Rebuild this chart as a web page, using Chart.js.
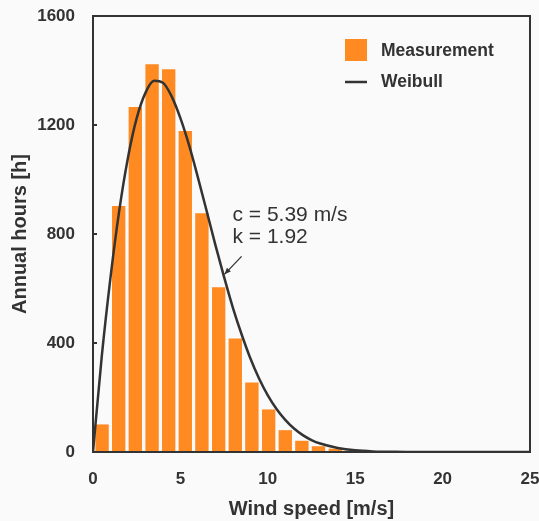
<!DOCTYPE html>
<html>
<head>
<meta charset="utf-8">
<script src="https://cdn.jsdelivr.net/npm/chart.js@4"></script>
<style>
  html, body { margin: 0; padding: 0; background: #fafafa; }
</style>
</head>
<body>
<canvas id="chart" width="539" height="521"></canvas>
<script>
// measured histogram (bin centres as drawn, hours per year)
const binCenters = [0.52, 1.47, 2.42, 3.38, 4.33, 5.28, 6.23, 7.19, 8.14, 9.09, 10.05, 11.0, 11.95, 12.9, 13.86, 14.81];
const measuredHours = [100, 902, 1265, 1422, 1403, 1177, 875, 603, 415, 254, 155, 79, 40, 20, 11, 4];

// fitted Weibull curve
const weibullSpeed = [0, 0.5, 1, 1.5, 2, 2.5, 3, 3.5, 4, 4.5, 5, 5.5, 6, 6.5, 7, 7.5, 8, 8.5, 9, 9.5, 10, 10.5, 11, 11.5, 12, 12.5, 13, 14, 15, 16, 17, 18, 20, 25];
const weibullHours = [0, 350, 640, 885, 1080, 1225, 1318, 1362, 1355, 1305, 1225, 1125, 1008, 885, 760, 642, 530, 432, 344, 270, 208, 158, 118, 86, 62, 44, 31, 15, 6, 2, 1, 0, 0, 0];

const yTicks = [0, 400, 800, 1200, 1600];
const xTicks = [0, 5, 10, 15, 20, 25];

const fitLabel = ["c = 5.39 m/s", "k = 1.92"];

const ink = "#333333";
const orange = "#ff8a22";
const family = "'Liberation Sans', Arial, sans-serif";

const frame = {
  id: "frame",
  afterDatasetsDraw(chart) {
    const { ctx, chartArea: a, scales } = chart;
    ctx.save();
    ctx.strokeStyle = ink;
    ctx.lineWidth = 2;
    ctx.strokeRect(a.left, a.top, a.right - a.left, a.bottom - a.top);
    // little inward ticks on the y axis
    yTicks.forEach((v) => {
      const y = scales.y.getPixelForValue(v);
      ctx.beginPath();
      ctx.moveTo(a.left, y);
      ctx.lineTo(a.left + 4, y);
      ctx.stroke();
    });

    // legend inside the plot
    const ds = chart.data.datasets;
    ctx.font = "bold 17.5px " + family;
    ctx.textBaseline = "middle";
    ctx.fillStyle = ds[1].backgroundColor;
    ctx.fillRect(345, 39, 22, 22);
    ctx.strokeStyle = ds[0].borderColor;
    ctx.lineWidth = 2.5;
    ctx.beginPath();
    ctx.moveTo(345, 82);
    ctx.lineTo(367, 82);
    ctx.stroke();
    ctx.fillStyle = ink;
    ctx.fillText(ds[1].label, 381, 51);
    ctx.fillText(ds[0].label, 381, 82);

    // fit parameters with arrow
    const xs = scales.x, ys = scales.y;
    ctx.font = "21px " + family;
    ctx.fillText(fitLabel[0], xs.getPixelForValue(7.98), ys.getPixelForValue(870));
    ctx.fillText(fitLabel[1], xs.getPixelForValue(7.98), ys.getPixelForValue(787));
    const x0 = xs.getPixelForValue(8.5), y0 = ys.getPixelForValue(718);
    const x1 = xs.getPixelForValue(7.52), y1 = ys.getPixelForValue(652);
    ctx.strokeStyle = ink;
    ctx.lineWidth = 1.3;
    ctx.beginPath();
    ctx.moveTo(x0, y0);
    ctx.lineTo(x1, y1);
    ctx.stroke();
    const ang = Math.atan2(y1 - y0, x1 - x0);
    ctx.beginPath();
    ctx.moveTo(x1, y1);
    ctx.lineTo(x1 - 7 * Math.cos(ang - 0.4), y1 - 7 * Math.sin(ang - 0.4));
    ctx.lineTo(x1 - 7 * Math.cos(ang + 0.4), y1 - 7 * Math.sin(ang + 0.4));
    ctx.closePath();
    ctx.fillStyle = ink;
    ctx.fill();
    ctx.restore();
  },
};

new Chart(document.getElementById("chart"), {
  type: "bar",
  data: {
    datasets: [
      {
        type: "line",
        label: "Weibull",
        data: weibullSpeed.map((v, i) => ({ x: v, y: weibullHours[i] })),
        borderColor: ink,
        borderWidth: 2.5,
        pointRadius: 0,
        cubicInterpolationMode: "monotone",
        order: 0,
      },
      {
        label: "Measurement",
        data: binCenters.map((v, i) => ({ x: v, y: measuredHours[i] })),
        backgroundColor: orange,
        barThickness: 12.7,
        order: 1,
      },
    ],
  },
  options: {
    responsive: false,
    animation: false,
    layout: { autoPadding: false, padding: { top: 16, right: 9, bottom: 0, left: 0 } },
    plugins: { legend: { display: false }, tooltip: { enabled: false } },
    scales: {
      x: {
        type: "linear",
        min: 0,
        max: 25,
        offset: false,
        afterBuildTicks: (s) => { s.ticks = xTicks.map((v) => ({ value: v })); },
        afterFit: (s) => { s.height = 69; s.paddingLeft = 0; s.paddingRight = 0; },
        grid: { display: false },
        border: { display: false },
        ticks: {
          padding: 9,
          color: ink,
          callback: (v) => String(v),
          font: { family, size: 17, weight: "bold" },
        },
        title: {
          display: true,
          text: "Wind speed [m/s]",
          color: ink,
          padding: { top: 0, bottom: 0 },
          font: { family, size: 20, weight: "bold" },
        },
      },
      y: {
        min: 0,
        max: 1600,
        afterBuildTicks: (s) => { s.ticks = yTicks.map((v) => ({ value: v })); },
        afterFit: (s) => { s.width = 93; s.paddingTop = 0; s.paddingBottom = 0; },
        grid: { display: false },
        border: { display: false },
        ticks: {
          padding: 10,
          color: ink,
          callback: (v) => String(v),
          font: { family, size: 17, weight: "bold" },
        },
        title: {
          display: true,
          text: "Annual hours [h]",
          color: ink,
          padding: { top: 8, bottom: 0 },
          font: { family, size: 20, weight: "bold" },
        },
      },
    },
  },
  plugins: [frame],
});
</script>
</body>
</html>
